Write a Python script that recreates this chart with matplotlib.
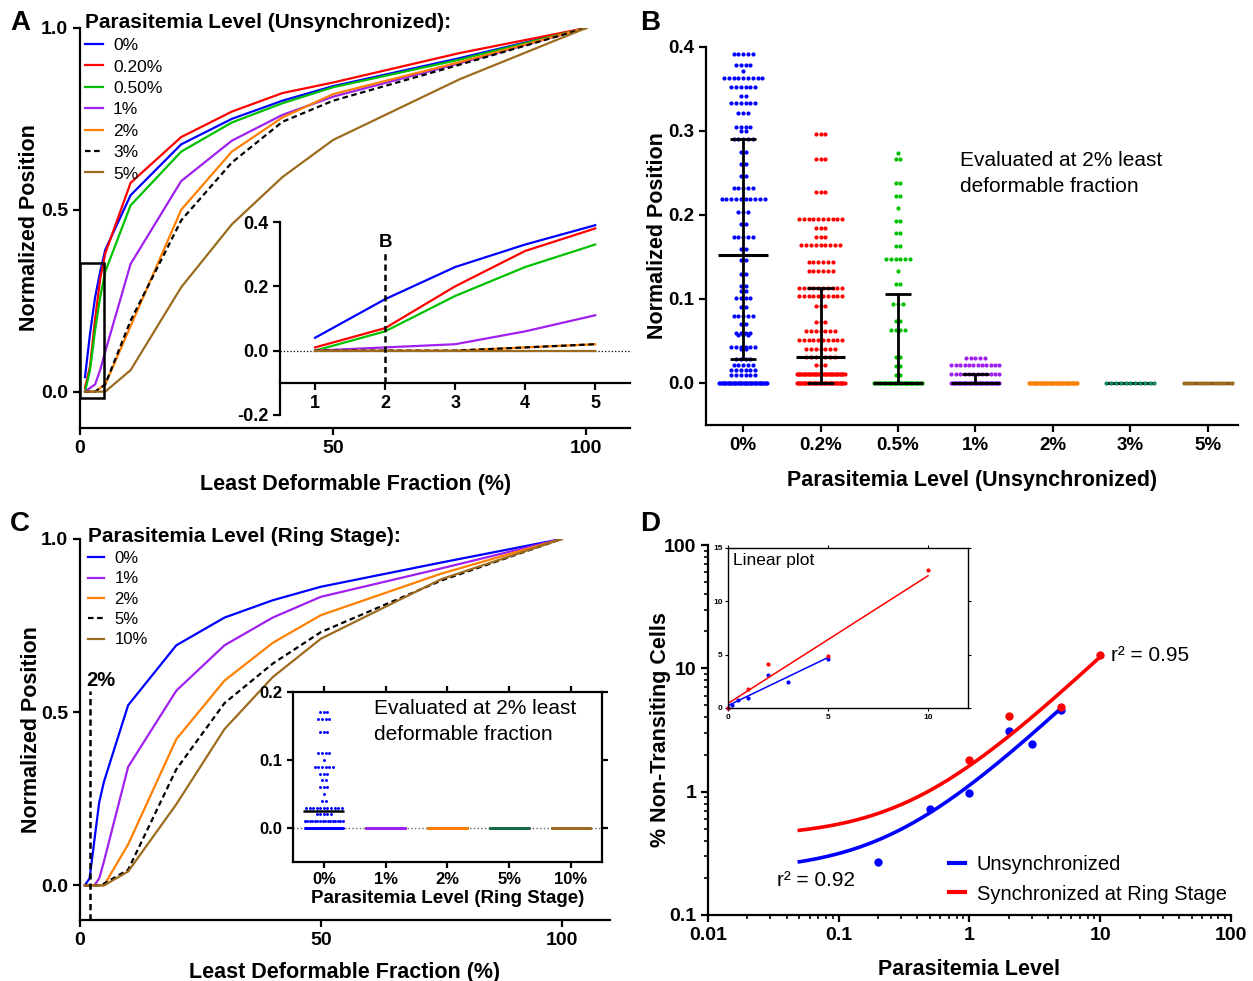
import numpy as np
import matplotlib
matplotlib.use("Agg")
import matplotlib.pyplot as plt
from matplotlib.patches import Rectangle
from matplotlib.lines import Line2D
from matplotlib.ticker import FixedLocator, LogLocator, NullFormatter, FuncFormatter

plt.rcParams['font.family'] = ['Liberation Sans', 'DejaVu Sans']
plt.rcParams['font.weight'] = 'bold'
plt.rcParams['axes.labelweight'] = 'bold'
plt.rcParams['axes.labelsize'] = 15.5
plt.rcParams['axes.linewidth'] = 1.6
plt.rcParams['xtick.major.width'] = 1.6
plt.rcParams['ytick.major.width'] = 1.6
plt.rcParams['xtick.major.size'] = 5
plt.rcParams['ytick.major.size'] = 5
plt.rcParams['xtick.labelsize'] = 14
plt.rcParams['ytick.labelsize'] = 14

BLUE = '#0000ff'
RED = '#ff0000'
GREEN = '#00c000'
PURPLE = '#a020f0'
ORANGE = '#ff8000'
BROWN = '#9c6b1e'
TEAL = '#138a5a'
DKGREEN = '#136b45'
DASH = (0, (2.5, 1.6))

# ---------------- data ----------------
# panel A / C: normalized position vs least deformable fraction (%)
frac_x = [1, 2, 3, 4, 5, 10, 20, 30, 40, 50, 75, 100]

unsync_labels = ['0%', '0.20%', '0.50%', '1%', '2%', '3%', '5%']
a_0 = [0.04, 0.16, 0.26, 0.33, 0.39, 0.54, 0.68, 0.75, 0.80, 0.84, 0.917, 1.0]
a_02 = [0.01, 0.07, 0.20, 0.31, 0.38, 0.574, 0.70, 0.77, 0.821, 0.85, 0.931, 1.0]
a_05 = [0.0, 0.06, 0.17, 0.26, 0.33, 0.512, 0.66, 0.74, 0.793, 0.837, 0.913, 1.0]
a_1 = [0.0, 0.01, 0.02, 0.06, 0.11, 0.351, 0.579, 0.69, 0.761, 0.811, 0.903, 1.0]
a_2 = [0.0, 0.0, 0.0, 0.01, 0.02, 0.18, 0.50, 0.66, 0.754, 0.818, 0.906, 1.0]
a_3 = [0.0, 0.0, 0.0, 0.01, 0.02, 0.195, 0.471, 0.63, 0.742, 0.80, 0.899, 1.0]
a_5 = [0.0, 0.0, 0.0, 0.0, 0.0, 0.059, 0.287, 0.46, 0.59, 0.692, 0.859, 1.0]

ring_labels = ['0%', '1%', '2%', '5%', '10%']
c_0 = [0.0, 0.02, 0.13, 0.24, 0.30, 0.52, 0.693, 0.773, 0.823, 0.862, 0.932, 1.0]
c_1 = [0.0, 0.0, 0.0, 0.02, 0.07, 0.342, 0.562, 0.693, 0.773, 0.833, 0.915, 1.0]
c_2 = [0.0, 0.0, 0.0, 0.0, 0.0, 0.118, 0.422, 0.591, 0.70, 0.78, 0.90, 1.0]
c_5 = [0.0, 0.0, 0.0, 0.0, 0.005, 0.045, 0.335, 0.526, 0.64, 0.731, 0.88, 1.0]
c_10 = [0.0, 0.0, 0.0, 0.0, 0.0, 0.04, 0.234, 0.451, 0.601, 0.712, 0.884, 1.0]

# panel B: values at 2% fraction, rows of (value, count)
b_levels = ['0%', '0.2%', '0.5%', '1%', '2%', '3%', '5%']
b0_vals = [0.392, 0.378, 0.372, 0.363, 0.352, 0.342, 0.333, 0.321, 0.305, 0.300,
           0.290, 0.275, 0.261, 0.247, 0.232, 0.219, 0.203, 0.189, 0.174, 0.160,
           0.146, 0.130, 0.116, 0.110, 0.101, 0.090, 0.080, 0.070, 0.060, 0.057,
           0.043, 0.040, 0.029, 0.021, 0.015, 0.010, 0.0]
b0_counts = [5, 4, 1, 9, 6, 2, 6, 3, 4, 2, 5, 2, 2, 2, 5, 10, 3, 2, 5, 2,
             2, 2, 2, 2, 4, 2, 5, 2, 4, 3, 6, 2, 4, 5, 6, 6, 40]
b02_vals = [0.297, 0.267, 0.227, 0.195, 0.185, 0.174, 0.164, 0.144, 0.133, 0.113,
            0.103, 0.092, 0.072, 0.062, 0.051, 0.041, 0.031, 0.021, 0.011, 0.0]
b02_counts = [3, 3, 3, 10, 3, 3, 9, 6, 6, 10, 10, 3, 3, 7, 10, 7, 7, 3, 40, 40]
b05_vals = [0.274, 0.267, 0.238, 0.223, 0.208, 0.193, 0.178, 0.163, 0.148, 0.133,
            0.118, 0.094, 0.074, 0.063, 0.031, 0.020, 0.010, 0.0]
b05_counts = [1, 2, 2, 2, 1, 2, 2, 2, 6, 1, 2, 3, 2, 4, 2, 2, 2, 40]
b1_vals = [0.030, 0.021, 0.011, 0.0]
b1_counts = [5, 12, 12, 40]
b2_vals = [0.0]
b2_counts = [40]
b3_vals = [0.0]
b3_counts = [11]
b5_vals = [0.0]
b5_counts = [16]
b_median = [0.152, 0.031, 0.0, 0.0, 0.0, 0.0, 0.0]
b_q1 = [0.029, 0.0, 0.0, 0.0, 0.0, 0.0, 0.0]
b_q3 = [0.290, 0.113, 0.106, 0.011, 0.0, 0.0, 0.0]

# panel C inset
ci0_vals = [0.170, 0.160, 0.141, 0.110, 0.100, 0.089, 0.080, 0.070, 0.060, 0.050,
            0.040, 0.030, 0.020, 0.010, 0.0]
ci0_counts = [3, 4, 3, 4, 1, 6, 3, 2, 3, 1, 2, 11, 5, 16, 40]
ci_zero_vals = [0.0]
ci_zero_counts = [40]
ci_median = [0.025, 0.0, 0.0, 0.0, 0.0]

# panel D: % non-transiting cells vs parasitemia
d_unsync_x = [0, 0.2, 0.5, 1, 2, 3, 5]
d_unsync_y = [0, 0.27, 0.72, 0.97, 3.08, 2.45, 4.63]
d_ring_x = [0, 1, 2, 5, 10]
d_ring_y = [0, 1.80, 4.14, 4.83, 12.9]


def swarm(ax, xc, vals, counts, color, step, half, size, z):
    xs, ys = [], []
    for v, n in zip(vals, counts):
        s = min(step, 2 * half / max(n - 1, 1))
        off = (np.arange(n) - (n - 1) / 2) * s
        xs.extend(xc + off)
        ys.extend([v] * n)
    ax.scatter(xs, ys, s=size, color=color, linewidths=0, zorder=z, clip_on=False)


def plain_axes(ax):
    ax.spines['top'].set_visible(False)
    ax.spines['right'].set_visible(False)
    ax.tick_params(direction='out')


fig = plt.figure(figsize=(12.53, 9.81), dpi=100)

# ---------------- A ----------------
axA = fig.add_axes([0.0638, 0.5637, 0.4392, 0.4078])
plain_axes(axA)
a_curves = [a_0, a_02, a_05, a_1, a_2, a_3, a_5]
a_colors = [BLUE, RED, GREEN, PURPLE, ORANGE, 'k', BROWN]
a_styles = ['-', '-', '-', '-', '-', DASH, '-']
hA = []
for vals, col, ls in zip(a_curves, a_colors, a_styles):
    h, = axA.plot(frac_x, vals, color=col, ls=ls, lw=1.6)
    hA.append(h)
axA.set_xlim(0, 108.7)
axA.set_ylim(-0.1, 1.0)
axA.set_xticks([0, 50, 100])
axA.set_yticks([0, 0.5, 1.0])
axA.set_yticklabels(['0.0', '0.5', '1.0'])
axA.set_xlabel('Least Deformable Fraction (%)')
axA.set_ylabel('Normalized Position')
axA.xaxis.set_label_coords(0.5, -0.115)
axA.yaxis.set_label_coords(-0.072, 0.5)
axA.add_patch(Rectangle((0.0, -0.017), 4.74, 0.371, fill=False, lw=1.8, ec='k',
                        clip_on=False, zorder=5))
axA.legend(hA, unsync_labels, loc='upper left', bbox_to_anchor=(0.068, 0.987),
           bbox_transform=fig.transFigure, frameon=False,
           title='Parasitemia Level (Unsynchronized):',
           title_fontproperties={'weight': 'bold', 'size': 15},
           alignment='left', prop={'weight': 'normal', 'size': 12.5},
           handlelength=1.0, handletextpad=0.6, labelspacing=0.36,
           borderpad=0, borderaxespad=0)

axAi = fig.add_axes([0.2235, 0.577, 0.2795, 0.1967])
axAi.patch.set_alpha(0)
plain_axes(axAi)
for vals, col, ls in zip(a_curves, a_colors, a_styles):
    axAi.plot(frac_x[:5], vals[:5], color=col, ls=ls, lw=1.6)
axAi.plot([0.5, 5.5], [0, 0], ls=':', color='k', lw=0.9, zorder=0)
axAi.plot([2, 2], [-0.1, 0.305], color='k', ls=DASH, lw=1.8)
axAi.text(2, 0.335, 'B', ha='center', va='center', fontsize=13.5)
axAi.set_xlim(0.5, 5.5)
axAi.set_ylim(-0.2, 0.4)
axAi.spines['bottom'].set_position(('data', -0.1))
axAi.set_xticks([1, 2, 3, 4, 5])
axAi.set_yticks([-0.2, 0.0, 0.2, 0.4])
axAi.set_yticklabels(['-0.2', '0.0', '0.2', '0.4'])
axAi.tick_params(labelsize=13)

# ---------------- B ----------------
axB = fig.add_axes([0.5634, 0.5668, 0.4246, 0.3853])
plain_axes(axB)
b_vals = [b0_vals, b02_vals, b05_vals, b1_vals, b2_vals, b3_vals, b5_vals]
b_counts = [b0_counts, b02_counts, b05_counts, b1_counts, b2_counts, b3_counts, b5_counts]
b_colors = [BLUE, RED, GREEN, PURPLE, ORANGE, TEAL, BROWN]
for i in range(len(b_levels)):
    on_top = b_q3[i] == b_q1[i]
    swarm(axB, i, b_vals[i], b_counts[i], b_colors[i], 0.062, 0.31, 9,
          4 if on_top else 2)
    axB.hlines(b_median[i], i - 0.32, i + 0.32, color='k', lw=2.2, zorder=3)
    if b_q3[i] > b_q1[i]:
        axB.vlines(i, b_q1[i], b_q3[i], color='k', lw=2.0, zorder=3)
        axB.hlines([b_q1[i], b_q3[i]], i - 0.17, i + 0.17, color='k', lw=2.0, zorder=3)
axB.set_xlim(-0.48, 6.39)
axB.set_ylim(-0.05, 0.4)
axB.set_xticks(range(len(b_levels)))
axB.set_xticklabels(b_levels)
axB.set_yticks([0, 0.1, 0.2, 0.3, 0.4])
axB.set_yticklabels(['0.0', '0.1', '0.2', '0.3', '0.4'])
axB.tick_params(labelsize=13.5)
axB.set_xlabel('Parasitemia Level (Unsynchronized)')
axB.set_ylabel('Normalized Position')
axB.xaxis.set_label_coords(0.5, -0.119)
axB.yaxis.set_label_coords(-0.072, 0.5)
axB.text(2.8, 0.276, 'Evaluated at 2% least\ndeformable fraction', ha='left', va='top',
         fontsize=15, fontweight='normal', linespacing=1.45)

# ---------------- C ----------------
axC = fig.add_axes([0.0638, 0.0622, 0.4230, 0.3884])
plain_axes(axC)
c_curves = [c_0, c_1, c_2, c_5, c_10]
c_colors = [BLUE, PURPLE, ORANGE, 'k', BROWN]
c_styles = ['-', '-', '-', DASH, '-']
hC = []
for vals, col, ls in zip(c_curves, c_colors, c_styles):
    h, = axC.plot(frac_x, vals, color=col, ls=ls, lw=1.6)
    hC.append(h)
axC.plot([2, 2], [-0.1, 0.56], color='k', ls=DASH, lw=1.8, clip_on=False)
axC.text(4.3, 0.59, '2%', ha='center', va='center', fontsize=14.5)
axC.set_xlim(0, 110)
axC.set_ylim(-0.1, 1.0)
axC.set_xticks([0, 50, 100])
axC.set_yticks([0, 0.5, 1.0])
axC.set_yticklabels(['0.0', '0.5', '1.0'])
axC.set_xlabel('Least Deformable Fraction (%)')
axC.set_ylabel('Normalized Position')
axC.xaxis.set_label_coords(0.5, -0.110)
axC.yaxis.set_label_coords(-0.072, 0.5)
axC.legend(hC, ring_labels, loc='upper left', bbox_to_anchor=(0.070, 0.463),
           bbox_transform=fig.transFigure, frameon=False,
           title='Parasitemia Level (Ring Stage):',
           title_fontproperties={'weight': 'bold', 'size': 15},
           alignment='left', prop={'weight': 'normal', 'size': 12},
           handlelength=1.0, handletextpad=0.6, labelspacing=0.32,
           borderpad=0, borderaxespad=0)

axCi = fig.add_axes([0.2338, 0.1213, 0.2466, 0.1733])
ci_vals = [ci0_vals] + [ci_zero_vals] * 4
ci_counts = [ci0_counts] + [ci_zero_counts] * 4
ci_colors = [BLUE, PURPLE, ORANGE, DKGREEN, BROWN]
axCi.axhline(0, color='0.4', ls=':', lw=1.0, zorder=1)
for i in range(len(ring_labels)):
    on_top = ci_median[i] == 0
    swarm(axCi, i, ci_vals[i], ci_counts[i], ci_colors[i], 0.058, 0.31, 4.5,
          4 if on_top else 2)
    axCi.hlines(ci_median[i], i - 0.33, i + 0.33, color='k', lw=1.8, zorder=3)
axCi.set_xlim(-0.5, 4.5)
axCi.set_ylim(-0.05, 0.2)
axCi.set_xticks(range(len(ring_labels)))
axCi.set_xticklabels(ring_labels)
axCi.set_yticks([0, 0.1, 0.2])
axCi.set_yticklabels(['0.0', '0.1', '0.2'])
axCi.tick_params(direction='out', top=True, right=True, labelsize=12, length=4)
axCi.set_xlabel('Parasitemia Level (Ring Stage)', fontsize=13.5, labelpad=2)
axCi.text(0.81, 0.19, 'Evaluated at 2% least\ndeformable fraction', ha='left', va='top',
          fontsize=15, fontweight='normal', linespacing=1.45)

# ---------------- D ----------------
axD = fig.add_axes([0.565, 0.0673, 0.4174, 0.3771])
plain_axes(axD)
axD.set_xscale('log')
axD.set_yscale('log')
for xs, ys, col in [(d_unsync_x, d_unsync_y, BLUE), (d_ring_x, d_ring_y, RED)]:
    xs = np.asarray(xs, float)
    ys = np.asarray(ys, float)
    b, a = np.polyfit(xs, ys, 1)
    xf = np.logspace(np.log10(0.05), np.log10(xs.max()), 200)
    axD.plot(xf, a + b * xf, color=col, lw=2.6)
    m = xs > 0
    axD.plot(xs[m], ys[m], 'o', color=col, ms=6, mew=0)
axD.set_xlim(0.01, 100)
axD.set_ylim(0.1, 100)
fmt = FuncFormatter(lambda v, _: f'{v:g}')
axD.xaxis.set_major_locator(FixedLocator([0.01, 0.1, 1, 10, 100]))
axD.yaxis.set_major_locator(FixedLocator([0.1, 1, 10, 100]))
axD.xaxis.set_major_formatter(fmt)
axD.yaxis.set_major_formatter(fmt)
for ax_ in (axD.xaxis, axD.yaxis):
    ax_.set_minor_locator(LogLocator(base=10, subs=np.arange(2, 10)))
    ax_.set_minor_formatter(NullFormatter())
axD.tick_params(which='minor', direction='out', length=3, width=1.2)
axD.set_xlabel('Parasitemia Level')
axD.set_ylabel('% Non-Transiting Cells')
axD.xaxis.set_label_coords(0.5, -0.118)
axD.yaxis.set_label_coords(-0.071, 0.5)
axD.text(12.2, 12.6, 'r² = 0.95', ha='left', va='center', fontsize=15, fontweight='normal')
axD.text(0.034, 0.192, 'r² = 0.92', ha='left', va='center', fontsize=15, fontweight='normal')
axD.legend([Line2D([], [], color=BLUE, lw=3), Line2D([], [], color=RED, lw=3)],
           ['Unsynchronized', 'Synchronized at Ring Stage'], loc='upper left',
           bbox_to_anchor=(0.757, 0.128), bbox_transform=fig.transFigure,
           frameon=False, prop={'weight': 'normal', 'size': 14.5},
           handlelength=0.8, handletextpad=0.6, labelspacing=0.5,
           borderpad=0, borderaxespad=0)

axDi = fig.add_axes([0.581, 0.2783, 0.1915, 0.1631])
for xs, ys, col in [(d_unsync_x, d_unsync_y, BLUE), (d_ring_x, d_ring_y, RED)]:
    xs = np.asarray(xs, float)
    ys = np.asarray(ys, float)
    b, a = np.polyfit(xs, ys, 1)
    xf = np.array([0, xs.max()])
    axDi.plot(xf, a + b * xf, color=col, lw=1.1)
    axDi.plot(xs, ys, 'o', color=col, ms=3, mew=0, clip_on=False)
axDi.set_xlim(0, 12)
axDi.set_ylim(0, 15)
axDi.set_xticks([0, 5, 10])
axDi.set_yticks([0, 5, 10, 15])
for s in axDi.spines.values():
    s.set_linewidth(1.0)
axDi.tick_params(direction='out', top=True, right=True, labelsize=6, length=2.5,
                 width=0.8, pad=1.5)
axDi.text(0.02, 0.97, 'Linear plot', transform=axDi.transAxes, ha='left', va='top',
          fontsize=12.5, fontweight='normal')

# panel letters
for lab, x, y in [('A', 0.008, 0.977), ('B', 0.511, 0.977), ('C', 0.008, 0.466),
                  ('D', 0.511, 0.466)]:
    fig.text(x, y, lab, fontsize=20, fontweight='bold', va='center', ha='left')

fig.savefig('out.png', dpi=100)
